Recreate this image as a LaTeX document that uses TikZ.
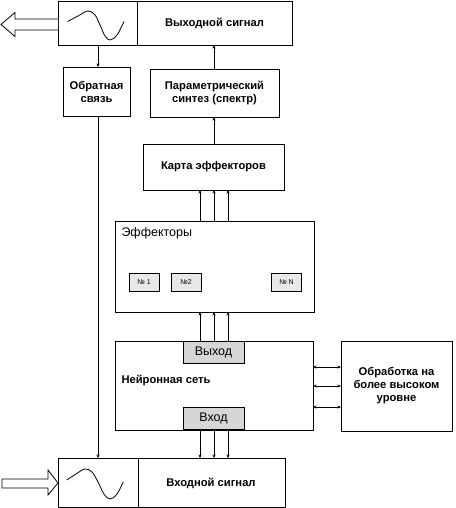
\documentclass[tikz,border=0pt]{standalone}
\usepackage{fontspec}
\setmainfont{Liberation Sans}
\usetikzlibrary{arrows.meta}
\begin{document}
\begin{tikzpicture}[x=1pt,y=-1pt,
  every node/.style={inner sep=0pt,outer sep=0pt},
  box/.style={draw,line width=0.8pt,rectangle,fill=white},
  bt/.style={font=\bfseries\fontsize{11.2}{13}\selectfont,align=center},
  nt/.style={font=\fontsize{12.5}{14}\selectfont,align=center},
  small/.style={draw,line width=0.8pt,fill=gray!18,minimum width=30pt,minimum height=18pt,font=\fontsize{7}{8}\selectfont},
  port/.style={draw,line width=0.8pt,fill=gray!32,minimum width=61pt,minimum height=22pt,font=\fontsize{12.5}{14}\selectfont},
  ar/.style={line width=0.8pt,-{Stealth[length=3.5pt,width=3pt]}},
  dar/.style={line width=0.8pt,{Stealth[length=3.5pt,width=3pt]}-{Stealth[length=3.5pt,width=3pt]}},
  wave/.style={line width=0.8pt},
  hollow/.style={draw,line width=0.8pt,fill=white}
]
\useasboundingbox (0,0) rectangle (455,508);

% output signal
\node[box,minimum width=234pt,minimum height=44pt] (outsig) at (175,23) {};
\draw[line width=0.8pt] (137,1) -- (137,45);
\node[bt] (outtxt) at (214.5,23.5) {Выходной сигнал};
\draw[wave] plot[smooth,tension=0.6] coordinates {(67.5,21.5) (78,16) (88,11) (95,15) (100,25) (105,36) (110,40) (117,35) (124,21.5)};
\draw[hollow] (58,19) -- (15,19) -- (15,12.5) -- (1,24.5) -- (15,36.5) -- (15,30) -- (58,30);

% feedback
\node[box,minimum width=67pt,minimum height=49pt] (fb) at (96.5,91.5) {};
\node[bt] (fbtxt) at (96.5,91.5) {Обратная\\связь};

% synthesis
\node[box,minimum width=129pt,minimum height=48pt] (synth) at (214.5,93) {};
\node[bt] (synthtxt) at (214.5,93) {Параметрический\\синтез (спектр)};

% effector map
\node[box,minimum width=141pt,minimum height=46pt] (map) at (213.5,167) {};
\node[bt] (maptxt) at (213.5,167) {Карта эффекторов};

% effectors
\node[box,minimum width=199pt,minimum height=91pt] (eff) at (214.5,266.5) {};
\node[nt,anchor=west] (efftxt) at (121.5,233) {Эффекторы};
\node[small] (e1) at (144,282) {№ 1};
\node[small] (e2) at (186,282) {№2};
\node[small] (eN) at (286.5,282) {№ N};

% neural network
\node[box,minimum width=198pt,minimum height=89pt] (nn) at (214,385.5) {};
\node[bt,anchor=west] (nntxt) at (121.5,380) {Нейронная сеть};
\node[port] (out) at (213.5,352) {Выход};
\node[port] (in) at (213.5,418.5) {Вход};

% processing
\node[box,minimum width=111pt,minimum height=90pt] (proc) at (396.5,386) {};
\node[bt] (proctxt) at (396.5,386) {Обработка на\\более высоком\\уровне};

% input signal
\node[box,minimum width=227pt,minimum height=49pt] (insig) at (171.5,482.5) {};
\draw[line width=0.8pt] (138,458) -- (138,507);
\node[bt] (intxt) at (211,483) {Входной сигнал};
\draw[wave] plot[smooth,tension=0.6] coordinates {(66.7,480) (76,474) (85,469) (92,472) (98,482) (104,494) (110,499) (117,494) (123.3,481.7)};
\draw[hollow] (2,479) -- (48,479) -- (48,470) -- (58,483) -- (48,495) -- (48,488) -- (2,488) -- cycle;

% connectors
\draw[ar] (outsig.south -| 98,0) -- (fb.north -| 98,0);
\draw[ar] (fb.south -| 98,0) -- (insig.north -| 98,0);
\draw[ar] (synth.north -| 214,0) -- (outsig.south -| 214,0);
\draw[ar] (map.north -| 214,0) -- (synth.south -| 214,0);
\foreach \x in {200,214,228} {
  \draw[ar] (eff.north -| \x,0) -- (map.south -| \x,0);
  \draw[ar] (out.north -| \x,0) -- (eff.south -| \x,0);
  \draw[ar] (in.south -| \x,0) -- (insig.north -| \x,0);
}
\foreach \y in {367,386,407} {
  \draw[dar] (nn.east |- 0,\y) -- (proc.west |- 0,\y);
}
\end{tikzpicture}
\end{document}
